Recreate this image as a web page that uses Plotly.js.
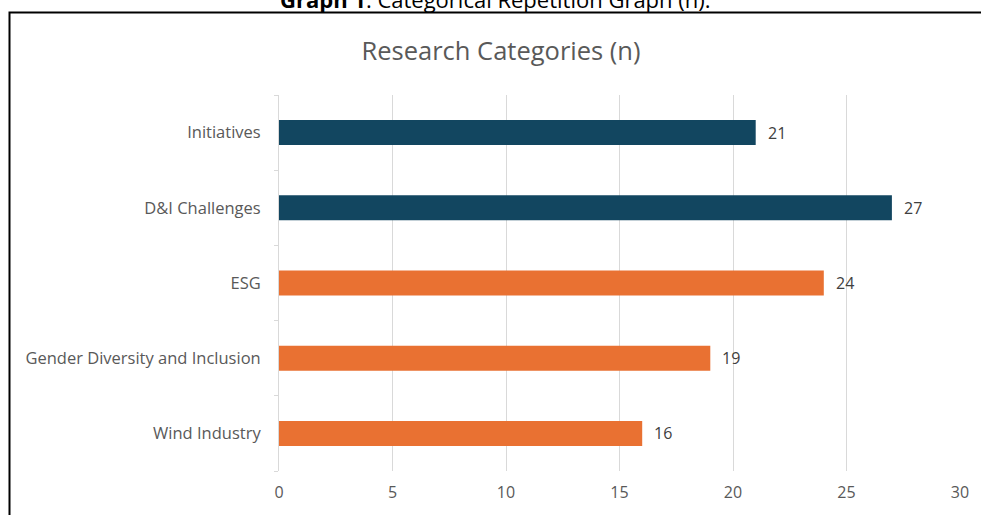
<!DOCTYPE html>
<html>
<head>
<meta charset="utf-8">
<script src="https://cdn.plot.ly/plotly-3.0.1.min.js"></script>
<style>html,body{margin:0;padding:0;background:#fff;}#chart{width:981px;height:515px;}</style>
</head>
<body>
<div id="chart"></div>
<script>
const categories = ["Wind Industry", "Gender Diversity and Inclusion", "ESG", "D&I Challenges", "Initiatives"];
const counts = [16, 19, 24, 27, 21];
const barColors = ["#E97132", "#E97132", "#E97132", "#124660", "#124660"];
const xTicks = [0, 5, 10, 15, 20, 25, 30];
const chartTitle = "Research Categories (n)";
const caption = "<b>Graph 1</b>: Categorical Repetition Graph (n).";

const W = 981, H = 515;
const L = 279, R = 21, T = 95, B = 44;
const pw = W - L - R, ph = H - T - B;
const px = v => (v - L) / pw;
const py = v => (H - B - v) / ph;
const FONT = "Open Sans, sans-serif";

const trace = {
  type: "bar",
  orientation: "h",
  y: categories,
  x: counts,
  marker: {color: barColors},
  hoverinfo: "none"
};

const valueLabels = categories.map((c, i) => ({
  x: counts[i], y: c,
  xref: "x", yref: "y",
  text: String(counts[i]),
  xanchor: "left", yanchor: "middle",
  xshift: 10,
  showarrow: false,
  font: {family: FONT, size: 16, color: "#404040"}
}));

const layout = {
  width: W, height: H,
  margin: {l: L, r: R, t: T, b: B, pad: 0},
  paper_bgcolor: "#ffffff",
  plot_bgcolor: "#ffffff",
  bargap: 0.667,
  showlegend: false,
  title: {
    text: chartTitle,
    font: {family: FONT, size: 25.5, color: "#595959"},
    x: px(501), xref: "paper", xanchor: "center",
    y: 1 - 51 / H, yref: "container", yanchor: "middle"
  },
  xaxis: {
    range: [0, 30],
    tickvals: xTicks,
    ticktext: xTicks.map(String),
    showgrid: true,
    gridcolor: "#d9d9d9",
    gridwidth: 1,
    zeroline: false,
    showline: false,
    ticks: "",
    tickfont: {family: FONT, size: 16, color: "#595959"},
    ticklabelstandoff: 10,
    fixedrange: true
  },
  yaxis: {
    type: "category",
    categoryorder: "array",
    categoryarray: categories,
    showgrid: false,
    zeroline: false,
    showline: true,
    linecolor: "#d9d9d9",
    linewidth: 1,
    ticks: "outside",
    tickson: "boundaries",
    ticklen: 4,
    tickcolor: "#d9d9d9",
    tickfont: {family: FONT, size: 16.5, color: "#595959"},
    ticklabelstandoff: 14,
    fixedrange: true
  },
  shapes: [{
    type: "rect",
    xref: "paper", yref: "paper",
    x0: px(9.5), x1: px(1100),
    y0: py(700), y1: py(12.5),
    line: {color: "#000000", width: 2},
    fillcolor: "rgba(0,0,0,0)",
    layer: "below"
  }],
  annotations: valueLabels.concat([{
    text: caption,
    xref: "paper", yref: "paper",
    x: px(495), y: py(16),
    xanchor: "center", yanchor: "bottom",
    showarrow: false,
    font: {family: FONT, size: 22, color: "#000000"}
  }])
};

Plotly.newPlot("chart", [trace], layout, {displayModeBar: false, staticPlot: true});
</script>
</body>
</html>
